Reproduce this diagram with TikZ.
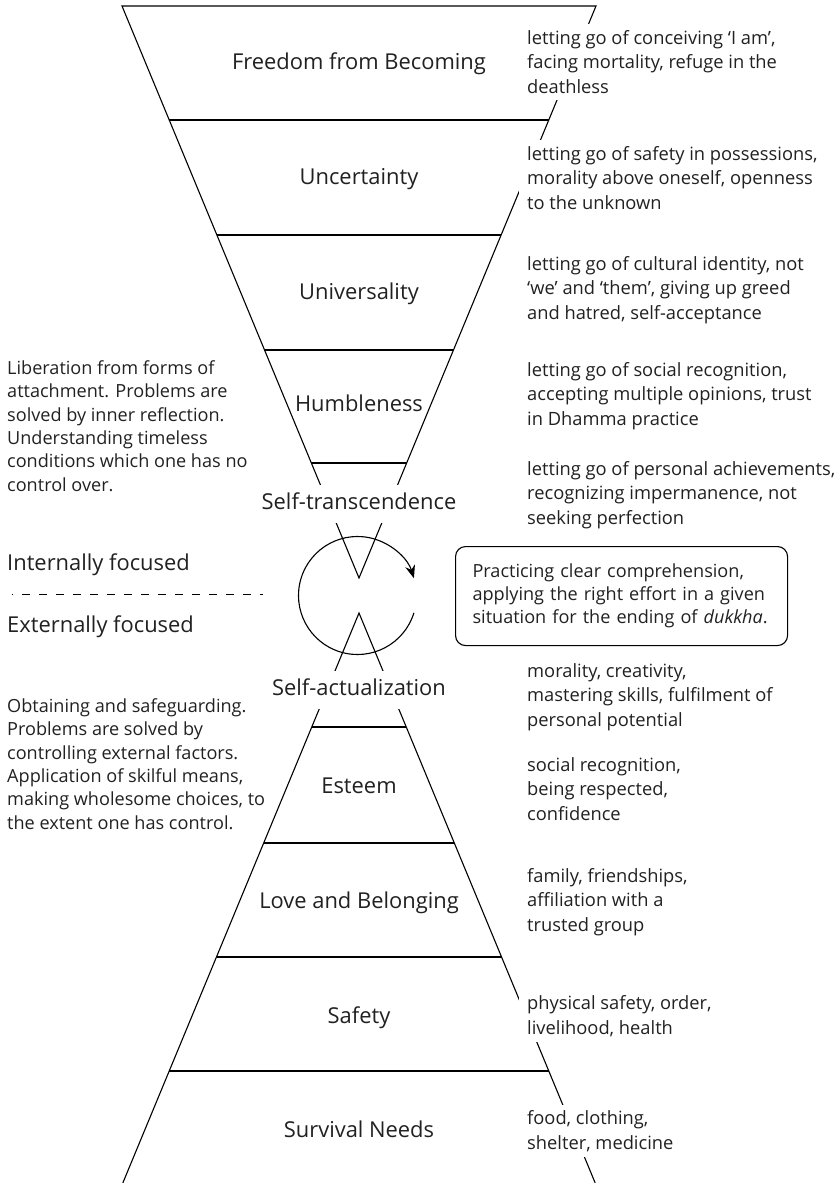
\documentclass[tikz,border=0pt]{standalone}
\usepackage{fontspec}
\setmainfont{Open Sans}
\usetikzlibrary{arrows.meta}
\begin{document}
\begin{tikzpicture}[x=1pt,y=-1pt,
  txt/.style={text=black!87},
  ln/.style={line width=1.1pt, line join=miter},
  layer/.style={txt, font=\fontsize{21.9}{26}\selectfont, text height=15.8pt, text depth=5pt, inner sep=0pt},
  gaplabel/.style={layer, fill=white, inner xsep=4pt, inner ysep=9pt},
  note/.style={txt, font=\fontsize{18.3}{24.5}\selectfont, align=left, anchor=west, fill=white, inner xsep=8pt, inner ysep=6pt},
  side/.style={txt, font=\fontsize{18.1}{23.4}\selectfont, align=left, anchor=west, inner sep=0pt},
  focus/.style={txt, font=\fontsize{21.9}{26}\selectfont, anchor=west, inner sep=0pt, text height=15.8pt, text depth=5pt},
  cbox/.style={txt, draw=black, line width=1.1pt, rounded corners=10pt, font=\fontsize{18.1}{23}\selectfont,
    align=left, text width=298pt, inner xsep=17pt, minimum height=99pt, anchor=north west},
]
\path[use as bounding box] (0,0) rectangle (838,1183);

% upper funnel
\coordinate (TL) at (122,6);
\coordinate (TR) at (596,6);
\coordinate (TA) at (359,578);
\draw[ln] (TR) -- (TL) -- (TA) -- cycle;
\draw[ln] (169.2,120) -- (548.8,120);
\draw[ln] (216.9,235) -- (501.1,235);
\draw[ln] (264.5,350) -- (453.5,350);
\draw[ln] (311.4,463) -- (406.6,463);

% lower pyramid
\coordinate (BA) at (359,613);
\coordinate (BL) at (122.8,1183);
\coordinate (BR) at (595.2,1183);
\draw[ln] (BL) -- (BA) -- (BR);
\draw[ln] (311.8,727) -- (406.2,727);
\draw[ln] (263.7,843) -- (454.3,843);
\draw[ln] (216.5,957) -- (501.5,957);
\draw[ln] (169.2,1071) -- (548.8,1071);

% cycle arrow
\coordinate (C) at (357.5,595.5);
\draw[ln, -{Stealth[length=13pt,width=10pt]}] (C) ++(17:59) arc[start angle=17, end angle=343, radius=59];

% dashed divider
\coordinate (D1) at (12,594);
\coordinate (D2) at (263,594);
\draw[line width=1pt, dash pattern=on 8pt off 9pt, dash phase=7pt] (D1) -- (D2);

% layer labels
\node[layer] (l1) at (359,64) {Freedom from Becoming};
\node[layer] (l2) at (359,179) {Uncertainty};
\node[layer] (l3) at (359,294) {Universality};
\node[layer] (l4) at (359,406) {Humbleness};
\node[gaplabel] (st) at (359,504) {Self-transcendence};
\node[gaplabel] (sa) at (359,690) {Self-actualization};
\node[layer] (l6) at (359,788) {Esteem};
\node[layer] (l7) at (359,903) {Love and Belonging};
\node[layer] (l8) at (359,1018) {Safety};
\node[layer] (l9) at (359,1132) {Survival Needs};

% right notes
\node[note] (n1) at (519,62) {letting go of conceiving ‘I am’,\\facing mortality, refuge in the\\deathless};
\node[note] (n2) at (519,178) {letting go of safety in possessions,\\morality above oneself, openness\\to the unknown};
\node[note] (n3) at (519,290) {letting go of cultural identity, not\\‘we’ and ‘them’, giving up greed\\and hatred, self-acceptance};
\node[note] (n4) at (519,396) {letting go of social recognition,\\accepting multiple opinions, trust\\in Dhamma practice};
\node[note] (n5) at (519,495) {letting go of personal achievements,\\recognizing impermanence, not\\seeking perfection};
\node[note] (n6) at (519,697) {morality, creativity,\\mastering skills, fulfilment of\\personal potential};
\node[note] (n7) at (519,789) {social recognition,\\being respected,\\confidence};
\node[note] (n8) at (519,902) {family, friendships,\\affiliation with a\\trusted group};
\node[note] (n9) at (519,1016) {physical safety, order,\\livelihood, health};
\node[note] (n10) at (519,1131) {food, clothing,\\shelter, medicine};

% comprehension box
\node[cbox] (box) at (455,546) {Practicing clear comprehension,\\applying the right effort in a given\\situation for the ending of \textit{dukkha}.};

% left texts
\node[side] (s1) at (7,426) {Liberation from forms of\\attachment.  Problems are\\solved by inner reflection.\\Understanding timeless\\conditions which one has no\\control over.};
\node[side] (s2) at (7,764) {Obtaining and safeguarding.\\Problems are solved by\\controlling external factors.\\Application of skilful means,\\making wholesome choices, to\\the extent one has control.};
\node[focus] (inf) at (7,565) {Internally focused};
\node[focus] (exf) at (7,627) {Externally focused};
\end{tikzpicture}
\end{document}
